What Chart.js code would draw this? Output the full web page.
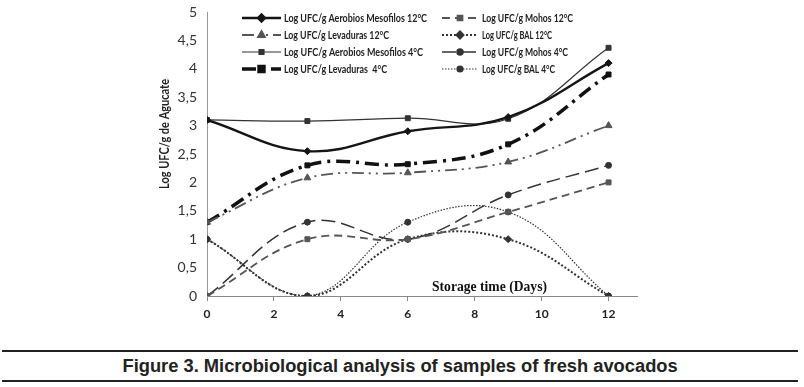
<!DOCTYPE html>
<html>
<head>
<meta charset="utf-8">
<script src="https://cdn.jsdelivr.net/npm/chart.js@4/dist/chart.umd.min.js"></script>
<style>
    html, body { margin: 0; padding: 0; background: #fff; }
    body { width: 804px; height: 387px; position: relative; overflow: hidden; }
    #wrap { position: absolute; left: 0; top: 0; width: 804px; height: 340px; }
    #caption {
        position: absolute; left: 2px; width: 796px; top: 350px; height: 28px;
        border-top: 2px solid #222; border-bottom: 2px solid #222;
        text-align: center; white-space: nowrap;
    }
    #caption span {
        display: inline-block; font: bold 18px "Liberation Sans", Arial, sans-serif;
        color: #222; line-height: 28px; transform-origin: center center;
    }
</style>
</head>
<body>
<div id="wrap"><canvas id="chart" width="804" height="340"></canvas></div>
<div id="caption"><span id="capText">Figure 3. Microbiological analysis of samples of fresh avocados</span></div>
<script>
// Storage days and log counts
const days = [0, 3, 6, 9, 12];
const xTicks = [0, 2, 4, 6, 8, 10, 12];
const aerobios12 = [3.1, 2.55, 2.9, 3.15, 4.1];
const mohos12 = [0, 1.0, 1.0, 1.48, 2.0];
const levaduras12 = [1.3, 2.08, 2.17, 2.36, 3.0];
const bal12 = [1.0, 0, 1.0, 1.0, 0];
const aerobios4 = [3.1, 3.08, 3.13, 3.12, 4.37];
const mohos4 = [0, 1.3, 1.0, 1.78, 2.3];
const levaduras4 = [1.3, 2.3, 2.32, 2.67, 3.9];
const bal4 = [1.0, 0, 1.3, 1.48, 0];

const labels = [
    'Log UFC/g Aerobios Mesofilos 12°C', 'Log UFC/g Mohos 12°C',
    'Log UFC/g Levaduras 12°C', 'Log UFC/g BAL 12°C',
    'Log UFC/g Aerobios Mesofilos 4°C', 'Log UFC/g Mohos 4°C',
    'Log UFC/g Levaduras  4°C', 'Log UFC/g BAL 4°C'
];

function pts(arr) {
    return days.map((d, i) => ({ x: d, y: arr[i] }));
}

function series(label, arr, color, width, dash, style, radius) {
    return {
        label: label,
        data: pts(arr),
        borderColor: color,
        backgroundColor: color,
        borderWidth: width,
        borderDash: dash,
        pointStyle: style,
        pointRadius: radius,
        pointBorderWidth: 1,
        tension: 0.4,
        fill: false
    };
}

const datasets = [
    series(labels[0], aerobios12, '#151515', 2.4, [], 'rectRot', 3.5),
    series(labels[1], mohos12, '#555', 1.8, [8, 5], 'rect', 3.5),
    series(labels[2], levaduras12, '#555', 1.8, [12, 5, 2, 5, 2, 5], 'triangle', 4),
    series(labels[3], bal12, '#333', 2, [2, 2], 'rectRot', 3.5),
    series(labels[4], aerobios4, '#333', 1.2, [], 'rect', 3.5),
    series(labels[5], mohos4, '#333', 1.5, [14, 6], 'circle', 3),
    series(labels[6], levaduras4, '#111', 3.5, [14, 6, 3, 6], 'rect', 3.5),
    series(labels[7], bal4, '#333', 1.2, [1.5, 1.5], 'circle', 3)
];

// Legend slots: [line start, line end, text x] per column, y per row
const legendCols = [[242, 281, 284], [442, 478, 482]];
const legendRows = [18, 35, 52, 69];
const legendWidths = [143, 91, 105, 70, 139, 86, 103, 73];

const extrasPlugin = {
    id: 'extras',
    afterDraw(chart) {
        const ctx = chart.ctx;
        ctx.save();
        // in-plot legend, two columns
        chart.data.datasets.forEach((ds, i) => {
            const col = legendCols[i % 2];
            const y = legendRows[Math.floor(i / 2)];
            ctx.strokeStyle = ds.borderColor;
            ctx.lineWidth = ds.borderWidth;
            ctx.setLineDash(ds.borderDash);
            ctx.beginPath();
            ctx.moveTo(col[0], y);
            ctx.lineTo(col[1], y);
            ctx.stroke();
            ctx.setLineDash([]);
            ctx.fillStyle = ds.borderColor;
            Chart.helpers.drawPoint(ctx, {
                pointStyle: ds.pointStyle, radius: ds.pointRadius, rotation: 0, borderWidth: 1
            }, (col[0] + col[1]) / 2, y);
            ctx.fillStyle = '#222';
            ctx.font = 'bold 11px Lato, sans-serif';
            ctx.textBaseline = 'middle';
            ctx.textAlign = 'left';
            ctx.fillText(ds.label, col[2], y, legendWidths[i]);
        });
        // x axis title inside the plot
        ctx.fillStyle = '#111';
        ctx.font = 'bold 14px "Liberation Serif", serif';
        ctx.textBaseline = 'alphabetic';
        ctx.fillText('Storage time (Days)', 432, 291, 115);
        // y axis title
        ctx.translate(165, 134);
        ctx.rotate(-Math.PI / 2);
        ctx.textAlign = 'center';
        ctx.textBaseline = 'middle';
        ctx.font = 'bold 13px Lato, sans-serif';
        ctx.fillStyle = '#222';
        ctx.fillText('Log UFC/g de Agucate', 0, 0, 110);
        ctx.restore();
    }
};

new Chart(document.getElementById('chart'), {
    type: 'line',
    data: { datasets: datasets },
    options: {
        responsive: false,
        animation: false,
        layout: { padding: { left: 0, top: 12, right: 167, bottom: 0 } },
        plugins: { legend: { display: false }, tooltip: { enabled: false } },
        scales: {
            x: {
                type: 'linear',
                min: 0,
                max: 12.85,
                afterBuildTicks: s => { s.ticks = xTicks.map(v => ({ value: v })); },
                afterFit: s => { s.height = 44; },
                grid: { display: true, drawOnChartArea: false, tickLength: 5, color: '#888' },
                border: { color: '#888', width: 1 },
                ticks: { padding: 6, color: '#222', font: { family: 'Lato', size: 12, weight: 'bold' } }
            },
            y: {
                min: 0,
                max: 5,
                afterFit: s => { s.width = 207; },
                grid: { display: false },
                border: { color: '#999', width: 1 },
                ticks: {
                    stepSize: 0.5,
                    padding: 2,
                    color: '#333',
                    font: { family: 'Lato', size: 14 },
                    callback: v => String(v).replace('.', ',')
                }
            }
        }
    },
    plugins: [extrasPlugin]
});

// squeeze the caption to the width it has in the figure
const cap = document.getElementById('capText');
cap.style.transform = 'scaleX(' + (555 / cap.offsetWidth) + ')';
</script>
</body>
</html>
